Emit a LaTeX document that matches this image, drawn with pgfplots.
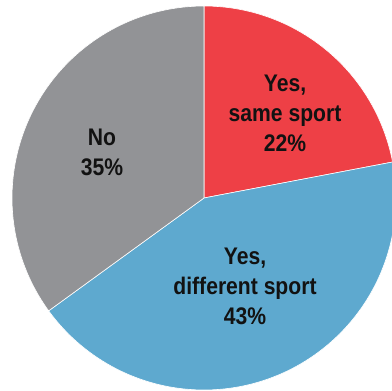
\documentclass[border=0pt]{standalone}
\usepackage{fontspec}
\setmainfont{Liberation Sans}[FakeStretch=0.88]
\usepackage{pgfplots}
\usepackage{pgfplotstable}
\pgfplotsset{compat=1.18}
\definecolor{pieRed}{HTML}{EE4046}
\definecolor{pieBlue}{HTML}{5EA9CF}
\definecolor{pieGray}{HTML}{929396}
\pgfplotstableread{
label value
same 22
diff 43
no 35
}\piedata
\begin{document}
\begin{tikzpicture}
\pgfplotstablegetelem{0}{value}\of\piedata \let\va\pgfplotsretval
\pgfplotstablegetelem{1}{value}\of\piedata \let\vb\pgfplotsretval
\pgfplotstablegetelem{2}{value}\of\piedata \let\vc\pgfplotsretval
\pgfmathsetmacro\aA{90}
\pgfmathsetmacro\aB{90-3.6*\va}
\pgfmathsetmacro\aC{\aB-3.6*\vb}
\pgfmathsetmacro\aD{\aC-3.6*\vc}
\begin{axis}[
  scale only axis, width=392pt, height=391pt,
  xmin=-204, xmax=188, ymin=-193, ymax=198,
  hide axis, clip=true,
]
\addplot[fill=pieRed, draw=white, line width=0.6pt, domain=\aB:\aA, samples=90, variable=\t]
  ({192*cos(\t)},{192*sin(\t)}) -- (axis cs:0,0) -- cycle;
\addplot[fill=pieBlue, draw=white, line width=0.6pt, domain=\aC:\aB, samples=150, variable=\t]
  ({192*cos(\t)},{192*sin(\t)}) -- (axis cs:0,0) -- cycle;
\addplot[fill=pieGray, draw=white, line width=0.6pt, domain=\aD:\aC, samples=120, variable=\t]
  ({192*cos(\t)},{192*sin(\t)}) -- (axis cs:0,0) -- cycle;
\node[align=center, font=\fontsize{24}{30}\selectfont\bfseries, text=black!93] at (axis cs:81,85) {Yes,\\same sport\\\va\%};
\node[align=center, font=\fontsize{24}{30}\selectfont\bfseries, text=black!93] at (axis cs:41,-88) {Yes,\\different sport\\\vb\%};
\node[align=center, font=\fontsize{24}{30}\selectfont\bfseries, text=black!93] at (axis cs:-102,46) {No\\\vc\%};
\end{axis}
\pgfresetboundingbox
\path[use as bounding box] (current axis.south west) rectangle (current axis.north east);
\end{tikzpicture}
\end{document}
